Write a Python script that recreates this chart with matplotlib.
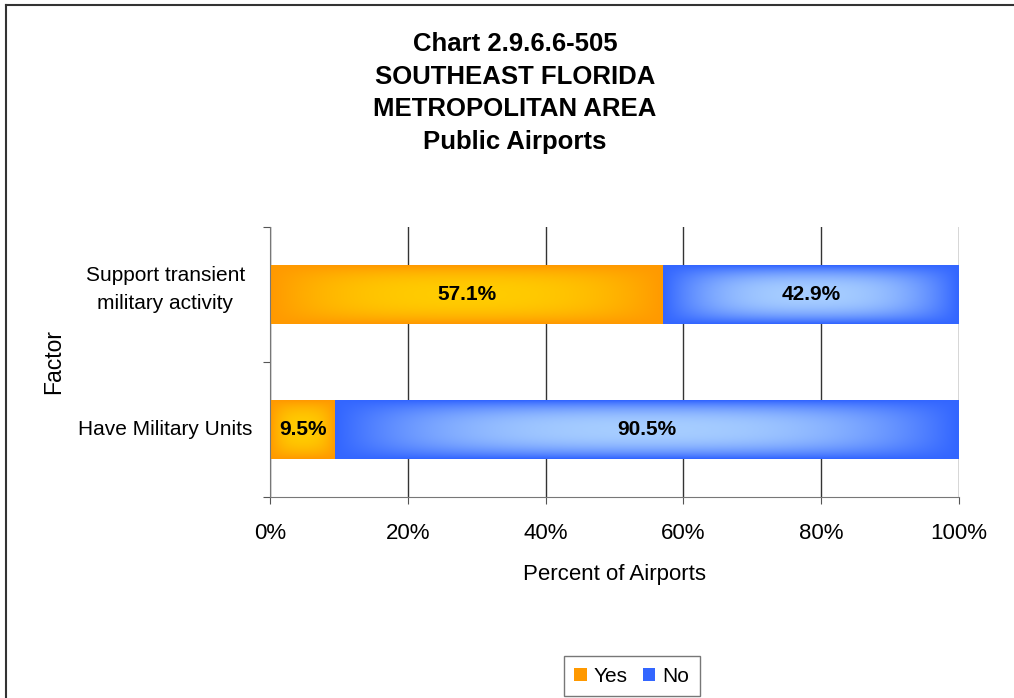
import numpy as np
import matplotlib
matplotlib.use("Agg")
import matplotlib.pyplot as plt
from matplotlib.colors import to_rgb
from matplotlib.lines import Line2D
from matplotlib.transforms import ScaledTranslation

plt.rcParams["font.family"] = ["Liberation Sans", "DejaVu Sans"]

categories = ["Have Military Units", "Support transient\nmilitary activity"]
yes_pct = [9.5, 57.1]
no_pct = [90.5, 42.9]
series = ["Yes", "No"]
xticks = [0, 20, 40, 60, 80, 100]

EDGE = {"Yes": "#ff9900", "No": "#3366ff"}
CENTER = {"Yes": "#ffcc00", "No": "#a6cdff"}


def gradient_fill(ax, bar, name):
    # light centre, darker edges (Excel "from centre" gradient look)
    u = np.linspace(-1, 1, 200)
    v = np.linspace(-1, 1, 60)
    U, V = np.meshgrid(u, v)
    t = (1 - np.abs(U) ** 2.5) * (1 - np.abs(V) ** 2.5)
    e = np.array(to_rgb(EDGE[name]))
    c = np.array(to_rgb(CENTER[name]))
    img = e + (c - e) * t[..., None]
    x0, y0 = bar.get_x(), bar.get_y()
    w, h = bar.get_width(), bar.get_height()
    im = ax.imshow(img, extent=(x0, x0 + w, y0, y0 + h), aspect="auto",
                   interpolation="bilinear", zorder=2.5)
    im.set_clip_path(bar)


fig = plt.figure(figsize=(10.14, 6.98), dpi=100)
ax = fig.add_axes([0.2663, 0.2880, 0.9458 - 0.2663, 0.6748 - 0.2880])

y = np.arange(len(categories))
bars_yes = ax.barh(y, yes_pct, height=0.43, color=EDGE["Yes"], label="Yes", zorder=2)
bars_no = ax.barh(y, no_pct, left=yes_pct, height=0.43, color=EDGE["No"], label="No", zorder=2)

for bar in bars_yes:
    gradient_fill(ax, bar, "Yes")
for bar in bars_no:
    gradient_fill(ax, bar, "No")

for bars in (bars_yes, bars_no):
    for bar in bars:
        ax.text(bar.get_x() + bar.get_width() / 2, bar.get_y() + bar.get_height() / 2,
                f"{bar.get_width():.1f}%", ha="center", va="center",
                fontsize=15, fontweight="bold", color="black", zorder=4)

ax.set_xlim(0, 100)
ax.set_ylim(-0.5, len(categories) - 0.5)
ax.set_xticks(xticks)
ax.set_xticklabels([f"{v}%" for v in xticks], fontsize=16)
ax.set_yticks(np.arange(-0.5, len(categories), 1.0))
ax.set_yticklabels([])
ax.tick_params(axis="y", length=5, color="#555555")
ax.tick_params(axis="x", length=5, color="#555555", pad=14)

# category labels, centred to the left of the axis
for yi, cat in zip(y, categories):
    shift = 5 / 100 if "\n" in cat else 0
    ax.text(-0.152, yi, cat, ha="center", va="center", multialignment="center",
            fontsize=15, linespacing=1.6,
            transform=ax.get_yaxis_transform() + ScaledTranslation(0, shift, fig.dpi_scale_trans))

ax.grid(axis="x", color="#333333", lw=1.0, zorder=1)
ax.spines[["top", "right"]].set_visible(False)
ax.spines["left"].set_color("#777777")
ax.spines["bottom"].set_color("#777777")

ax.set_xlabel("Percent of Airports", fontsize=16, labelpad=14)
ax.set_ylabel("Factor", fontsize=16.5, labelpad=0)
ax.yaxis.set_label_coords(-0.297, 0.5)

fig.text(0.508, 0.954, "Chart 2.9.6.6-505\nSOUTHEAST FLORIDA\nMETROPOLITAN AREA\nPublic Airports",
         ha="center", va="top", fontsize=18.5, fontweight="bold", linespacing=1.45)

leg = fig.legend(loc="lower center", bbox_to_anchor=(0.623, -0.012), ncol=2,
                 fontsize=15, frameon=True, fancybox=False, handlelength=0.6,
                 handleheight=0.6, handletextpad=0.35, columnspacing=0.7,
                 borderpad=0.5)
leg.get_frame().set_edgecolor("#555555")
leg.get_frame().set_linewidth(1.0)

# outer chart frame (left and top edges visible in the crop)
fig.add_artist(Line2D([5.5 / 1014, 5.5 / 1014], [0, 1 - 4.5 / 698], transform=fig.transFigure,
                      color="#333333", lw=1.5))
fig.add_artist(Line2D([5.5 / 1014, 1], [1 - 4.5 / 698, 1 - 4.5 / 698], transform=fig.transFigure,
                      color="#333333", lw=1.5))

fig.savefig("out.png", dpi=100)
